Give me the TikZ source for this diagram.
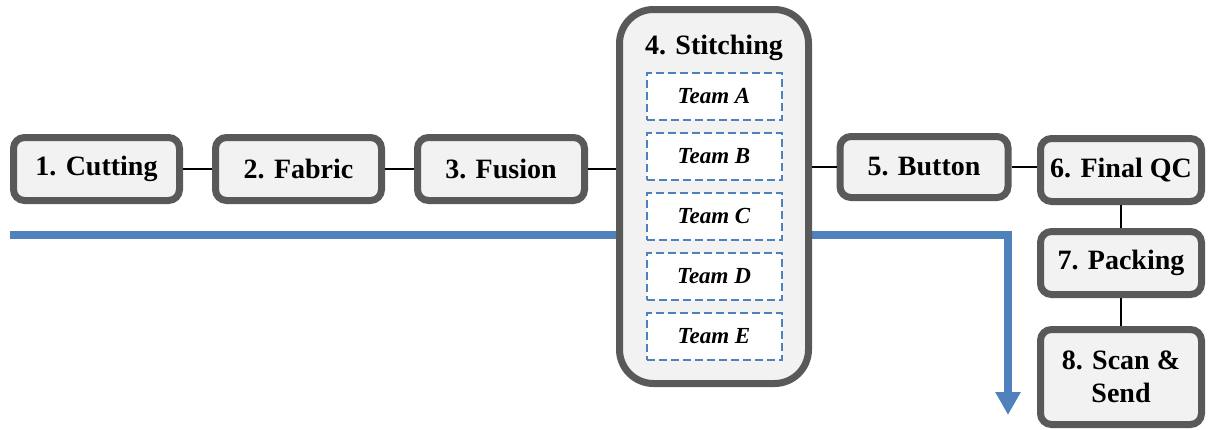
\documentclass[tikz,border=0pt]{standalone}
\usepackage{fontspec}
\setmainfont{Liberation Serif}
\usetikzlibrary{arrows.meta}
\definecolor{BoxBorder}{HTML}{595959}
\definecolor{BoxFill}{HTML}{F2F2F2}
\definecolor{FlowBlue}{HTML}{4F81BD}
\tikzset{
  stepbox/.style={draw=BoxBorder, fill=BoxFill, line width=7pt, rounded corners=11pt,
    minimum width=166pt, minimum height=63pt, inner sep=0pt,
    font=\fontsize{28}{33}\selectfont\bfseries, align=center},
  teambox/.style={draw=FlowBlue, fill=white, line width=2pt, dash pattern=on 8pt off 4pt,
    minimum width=135pt, minimum height=47pt, inner sep=0pt,
    font=\fontsize{23}{25}\selectfont\bfseries\itshape},
  link/.style={draw=black, line width=1.8pt},
  flow/.style={draw=FlowBlue, line width=7.5pt, -{Triangle[width=24pt,length=23pt]}}
}

\begin{document}
\begin{tikzpicture}[x=1pt, y=-1pt]

    \useasboundingbox (0,0) rectangle (1210,429);

    % Flecha de flujo (queda detras de la caja 4)
    \coordinate (flowstart) at (10,235);
    \coordinate (flowend) at (1008,415);
    \draw[flow] (flowstart) -| (flowend);

    \node[stepbox] (b1) at (96.5,169) {1. Cutting};
    \node[stepbox] (b2) at (298.5,169) {2. Fabric};
    \node[stepbox, minimum width=167pt] (b3) at (501,169) {3. Fusion};
    \node[stepbox, rounded corners=34pt, minimum width=189pt, minimum height=374pt] (b4) at (714,196.5) {};
    \node[font=\fontsize{28}{31}\selectfont\bfseries] (b4title) at (714,48) {4. Stitching};
    \node[stepbox, minimum width=168pt, minimum height=61pt] (b5) at (924,167) {5. Button};
    \node[stepbox, minimum width=161pt] (b6) at (1121,170) {6. Final QC};
    \node[stepbox, minimum width=161pt] (b7) at (1121,263) {7. Packing};
    \node[stepbox, minimum width=161pt, minimum height=95pt] (b8) at (1121,377) {8. Scan \&\\Send};

    % Equipos dentro de la caja 4
    \foreach \t [count=\i] in {A,B,C,D,E}
        \node[teambox] (team\t) at (714,36+60*\i) {Team \t};

    \draw[link] (b1) -- (b2);
    \draw[link] (b2) -- (b3);
    \draw[link] (b3.east) -- (b4.west |- b3.east);
    \draw[link] (b4.east |- b5.west) -- (b5.west);
    \draw[link] (b5.east) -- (b6.west |- b5.east);
    \draw[link] (b6) -- (b7);
    \draw[link] (b7) -- (b8);

\end{tikzpicture}
\end{document}
